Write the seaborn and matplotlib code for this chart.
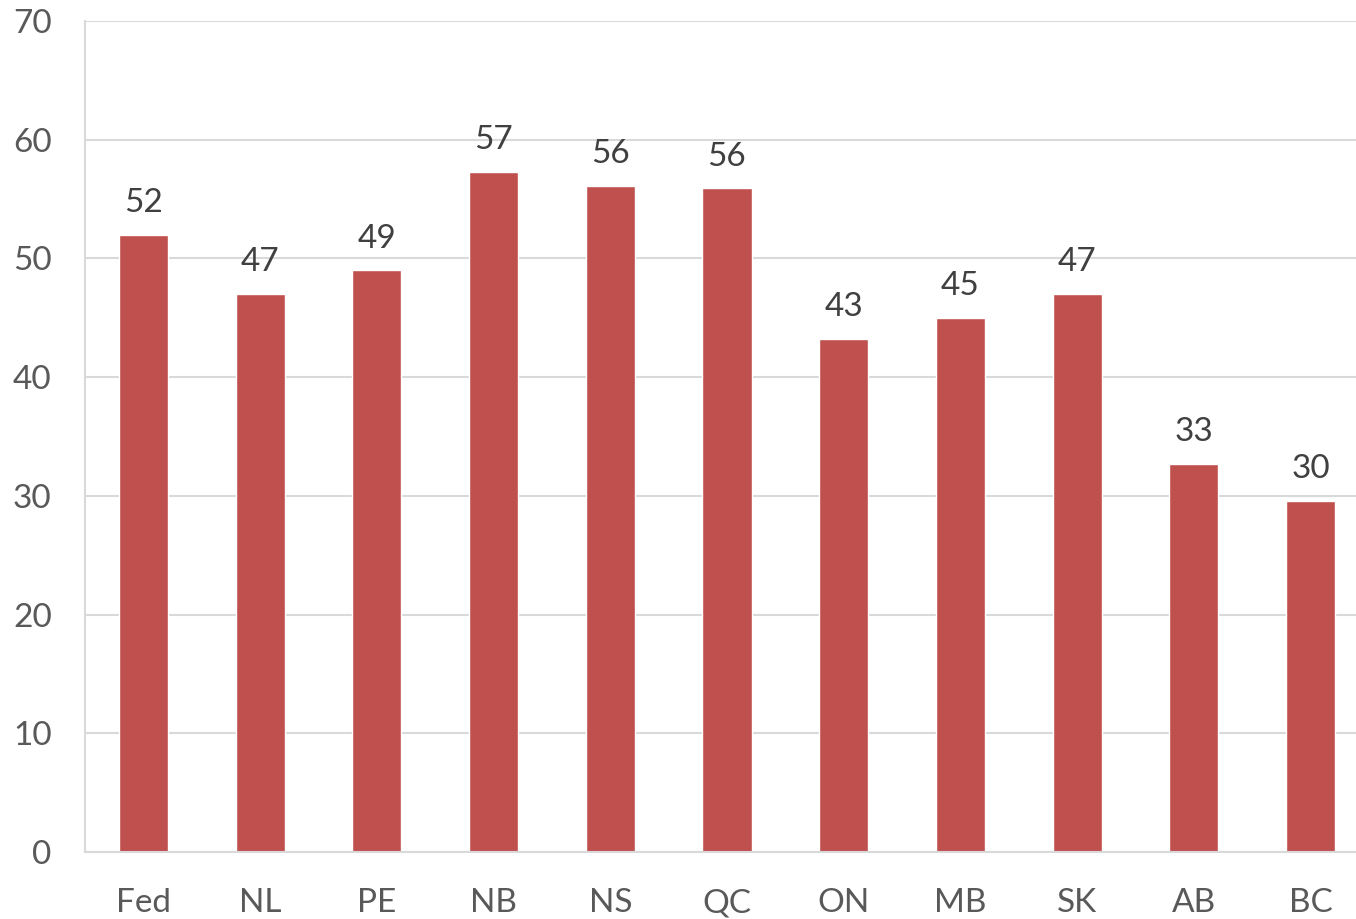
import numpy as np
import pandas as pd
import matplotlib
matplotlib.use('Agg')
import matplotlib.pyplot as plt
import seaborn as sns

# dados
regioes = ['Fed', 'NL', 'PE', 'NB', 'NS', 'QC', 'ON', 'MB', 'SK', 'AB', 'BC']
valores = [52, 47, 49, 57.3, 56.1, 55.9, 43.2, 45, 47, 32.7, 29.6]
y_ticks = [0, 10, 20, 30, 40, 50, 60, 70]

df = pd.DataFrame({'regiao': regioes, 'valor': valores})

sns.set_style('white')
plt.rcParams['font.family'] = ['Lato', 'DejaVu Sans']

fig = plt.figure(figsize=(13.56, 9.19), dpi=100)
ax = fig.add_axes([85 / 1356, 67 / 919, 1284 / 1356, 831 / 919])

sns.barplot(data=df, x='regiao', y='valor', color='#C0504D', width=0.42,
            saturation=1, ax=ax)

# rotulos dos valores
for p, v in zip(ax.patches, valores):
    ax.annotate('%.0f' % v, (p.get_x() + p.get_width() / 2, v),
                xytext=(0, 12), textcoords='offset points',
                ha='center', va='bottom', fontsize=24, color='#404040')

ax.set_ylim(0, 70)
ax.set_xlim(-0.5, len(regioes) - 0.5)
ax.set_yticks(y_ticks)
ax.yaxis.grid(True, color='#D9D9D9', linewidth=1.5)
ax.set_axisbelow(True)
ax.set_xlabel('')
ax.set_ylabel('')
ax.tick_params(axis='y', length=0, pad=24, labelsize=24, labelcolor='#595959')
ax.tick_params(axis='x', length=0, pad=26, labelsize=24, labelcolor='#595959')

for s in ['top', 'right']:
    ax.spines[s].set_visible(False)
ax.spines['left'].set_color('#D9D9D9')
ax.spines['left'].set_linewidth(1.5)
ax.spines['bottom'].set_color('#D9D9D9')
ax.spines['bottom'].set_linewidth(1.5)

plt.savefig('out.png', dpi=100)
